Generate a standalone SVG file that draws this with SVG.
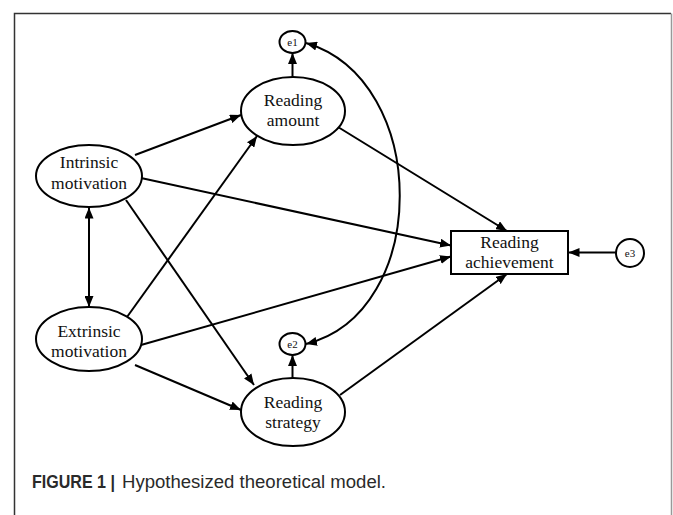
<svg xmlns="http://www.w3.org/2000/svg" width="673" height="515" viewBox="0 0 673 515">
<style>
.node{fill:#fff;stroke:#000;stroke-width:2}
.lbl{font-family:"Liberation Serif","Times New Roman",serif;font-size:17.5px;fill:#111;text-anchor:middle}
.err{font-family:"Liberation Serif","Times New Roman",serif;font-size:11px;fill:#111;text-anchor:middle}
.edge{fill:none;stroke:#000;stroke-width:2}
.cap{font-family:"Liberation Sans",Arial,sans-serif;font-size:17.5px;fill:#2a2a2a}
</style>
<defs>
<marker id="ah" markerUnits="userSpaceOnUse" markerWidth="11" markerHeight="9" refX="11" refY="4.5" orient="auto-start-reverse">
<path d="M0,0 L11,4.5 L0,9 z" fill="#000"/>
</marker>
</defs>
<rect width="673" height="515" fill="#fff"/>
<g id="frame">
<path d="M14.5,515 L14.5,13.5 L671,13.5" fill="none" stroke="#333" stroke-width="1.5"/>
<path d="M671.5,13.5 L671.5,515" fill="none" stroke="#999" stroke-width="1.5"/>
</g>
<g id="connectors">
<line class="edge" x1="135" y1="155" x2="241" y2="115" marker-end="url(#ah)"/>
<line class="edge" x1="127" y1="317" x2="257" y2="136" marker-end="url(#ah)"/>
<line class="edge" x1="141" y1="178" x2="451" y2="245.5" marker-end="url(#ah)"/>
<line class="edge" x1="126" y1="200" x2="254" y2="385" marker-end="url(#ah)"/>
<line class="edge" x1="141" y1="345" x2="451" y2="256.5" marker-end="url(#ah)"/>
<line class="edge" x1="135" y1="365" x2="241" y2="410" marker-end="url(#ah)"/>
<line class="edge" x1="338" y1="127" x2="507" y2="231" marker-end="url(#ah)"/>
<line class="edge" x1="340" y1="395" x2="507" y2="274" marker-end="url(#ah)"/>
<line class="edge" x1="292.5" y1="77" x2="292.5" y2="53" marker-end="url(#ah)"/>
<line class="edge" x1="292.5" y1="378" x2="292.5" y2="355" marker-end="url(#ah)"/>
<line class="edge" x1="616" y1="252.5" x2="568.5" y2="252.5" marker-end="url(#ah)"/>
<line class="edge" x1="89" y1="207.5" x2="89" y2="307" marker-start="url(#ah)" marker-end="url(#ah)"/>
<path class="edge" d="M306,43 C431,80 431,313 306,344" marker-start="url(#ah)" marker-end="url(#ah)"/>
</g>
<g id="intrinsic">
<ellipse class="node" cx="89" cy="176" rx="53" ry="31"/>
<text class="lbl" x="89" y="168">Intrinsic</text>
<text class="lbl" x="89" y="189">motivation</text>
</g>
<g id="extrinsic">
<ellipse class="node" cx="89" cy="339" rx="53" ry="32"/>
<text class="lbl" x="89" y="336.5">Extrinsic</text>
<text class="lbl" x="89" y="356.5">motivation</text>
</g>
<g id="amount">
<ellipse class="node" cx="293" cy="111" rx="52" ry="34"/>
<text class="lbl" x="293" y="106">Reading</text>
<text class="lbl" x="293" y="126">amount</text>
</g>
<g id="strategy">
<ellipse class="node" cx="293" cy="412" rx="52" ry="34"/>
<text class="lbl" x="293" y="408">Reading</text>
<text class="lbl" x="293" y="428">strategy</text>
</g>
<g id="achievement">
<rect class="node" x="451" y="231" width="117" height="43"/>
<text class="lbl" x="509.5" y="247.5">Reading</text>
<text class="lbl" x="509.5" y="268">achievement</text>
</g>
<g id="e1">
<ellipse class="node" cx="292.5" cy="42" rx="13" ry="11"/>
<text class="err" x="292.5" y="45.5">e1</text>
</g>
<g id="e2">
<ellipse class="node" cx="292.5" cy="344" rx="13" ry="11"/>
<text class="err" x="292.5" y="347.5">e2</text>
</g>
<g id="e3">
<circle class="node" cx="630" cy="253" r="14"/>
<text class="err" x="630" y="256.5">e3</text>
</g>
<g id="caption">
<text class="cap" x="32" y="488"><tspan font-weight="bold" textLength="83" lengthAdjust="spacingAndGlyphs">FIGURE 1 |</tspan><tspan x="122" textLength="264" lengthAdjust="spacingAndGlyphs">Hypothesized theoretical model.</tspan></text>
</g>
</svg>
